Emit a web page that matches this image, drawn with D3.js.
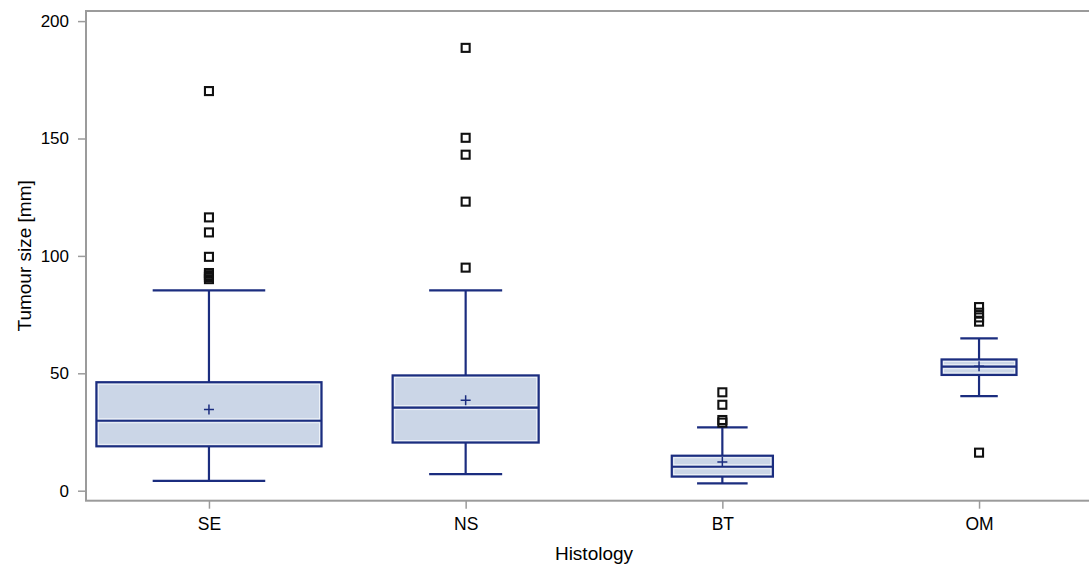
<!DOCTYPE html>
<html>
<head>
<meta charset="utf-8">
<script src="https://cdn.jsdelivr.net/npm/d3@7"></script>
<style>
  html, body { margin: 0; padding: 0; background: #fff; }
  svg { display: block; font-family: "Liberation Sans", Arial, sans-serif; }
</style>
</head>
<body>
<svg id="chart" width="1089" height="565"></svg>
<script>
// Tumour size by histology group: box = quartiles, line = median, + = mean
const categories = ["SE", "NS", "BT", "OM"];
const q1 = [18.9, 20.5, 6.0, 49.3];
const medians = [29.8, 35.4, 10.2, 52.8];
const q3 = [46.2, 49.1, 14.9, 55.9];
const means = [34.6, 38.5, 12.2, 53.0];
const whiskerLow = [4.2, 7.1, 3.1, 40.3];
const whiskerHigh = [85.3, 85.3, 27.0, 64.9];
const outliers = [
  [170.2, 116.4, 110.0, 99.6, 92.7, 91.8, 91.0, 90.1],
  [188.6, 150.3, 143.1, 123.1, 95.0],
  [41.9, 36.6, 30.1, 29.0],
  [78.2, 75.8, 73.8, 72.0, 16.2]
];
const yTicks = [0, 50, 100, 150, 200];

// Box widths as a share of the category step (variable-width boxes)
const boxWidthShare = [0.877, 0.569, 0.394, 0.292];

const navy = "#1b2d7f";
const boxFill = "#cbd6e7";
const frameGray = "#9b9b9b";

const svg = d3.select("#chart");
const plotLeft = 86, plotRight = 1102, plotTop = 11, plotBottom = 500.7;

const x = d3.scalePoint().domain(categories).range([plotLeft, plotRight]).padding(0.479);
const y = d3.scaleLinear().domain([-4.26, 204.3]).range([plotBottom, plotTop]);
const step = x.step();

const rows = categories.map((c, i) => ({
  cat: c, q1: q1[i], med: medians[i], q3: q3[i], mean: means[i],
  lo: whiskerLow[i], hi: whiskerHigh[i], out: outliers[i], w: boxWidthShare[i] * step
}));

// Axes
const yAxis = svg.append("g")
  .attr("transform", `translate(${plotLeft},0)`)
  .call(d3.axisLeft(y).tickValues(yTicks).tickSize(8).tickPadding(9));
yAxis.select(".domain").remove();
yAxis.selectAll(".tick line").attr("stroke", frameGray).attr("stroke-width", 1.5);
yAxis.selectAll(".tick text").attr("fill", "#000").style("font-size", "17px");
yAxis.attr("font-family", null).attr("font-size", null);

const xAxis = svg.append("g")
  .attr("transform", `translate(0,${plotBottom})`)
  .call(d3.axisBottom(x).tickSize(8).tickPadding(9));
xAxis.select(".domain").remove();
xAxis.selectAll(".tick line").attr("stroke", frameGray).attr("stroke-width", 1.5);
xAxis.selectAll(".tick text").attr("fill", "#000").style("font-size", "17.5px");
xAxis.attr("font-family", null).attr("font-size", null);

// Plot frame
svg.append("rect")
  .attr("x", plotLeft).attr("y", plotTop)
  .attr("width", plotRight - plotLeft).attr("height", plotBottom - plotTop)
  .attr("fill", "none").attr("stroke", frameGray).attr("stroke-width", 2);

const g = svg.append("g").selectAll("g").data(rows).join("g");

// Whiskers
g.append("line")
  .attr("x1", d => x(d.cat)).attr("x2", d => x(d.cat))
  .attr("y1", d => y(d.q3)).attr("y2", d => y(d.hi))
  .attr("stroke", navy).attr("stroke-width", 2.2);
g.append("line")
  .attr("x1", d => x(d.cat)).attr("x2", d => x(d.cat))
  .attr("y1", d => y(d.q1)).attr("y2", d => y(d.lo))
  .attr("stroke", navy).attr("stroke-width", 2.2);
g.selectAll("line.cap").data(d => [d.lo, d.hi].map(v => ({ v, d }))).join("line")
  .attr("class", "cap")
  .attr("x1", e => x(e.d.cat) - e.d.w / 4).attr("x2", e => x(e.d.cat) + e.d.w / 4)
  .attr("y1", e => y(e.v)).attr("y2", e => y(e.v))
  .attr("stroke", navy).attr("stroke-width", 2.2);

// Box body
g.append("rect")
  .attr("x", d => x(d.cat) - d.w / 2).attr("width", d => d.w)
  .attr("y", d => y(d.q3)).attr("height", d => y(d.q1) - y(d.q3))
  .attr("fill", boxFill);
// light inner edges of the two halves
g.selectAll("rect.half").data(d => [[d.q3, d.med], [d.med, d.q1]].map(p => ({ p, d }))).join("rect")
  .attr("class", "half")
  .attr("x", e => x(e.d.cat) - e.d.w / 2 + 2).attr("width", e => e.d.w - 4)
  .attr("y", e => y(e.p[0]) + 2).attr("height", e => Math.max(0, y(e.p[1]) - y(e.p[0]) - 4))
  .attr("fill", "none").attr("stroke", "#eef2f8").attr("stroke-width", 1);
g.append("rect")
  .attr("x", d => x(d.cat) - d.w / 2).attr("width", d => d.w)
  .attr("y", d => y(d.q3)).attr("height", d => y(d.q1) - y(d.q3))
  .attr("fill", "none").attr("stroke", navy).attr("stroke-width", 2.2);
g.append("line")
  .attr("x1", d => x(d.cat) - d.w / 2).attr("x2", d => x(d.cat) + d.w / 2)
  .attr("y1", d => y(d.med)).attr("y2", d => y(d.med))
  .attr("stroke", navy).attr("stroke-width", 2.2);

// Mean marker
g.append("path")
  .attr("d", d => {
    const cx = x(d.cat), cy = y(d.mean), s = 5;
    return `M${cx - s},${cy}H${cx + s}M${cx},${cy - s}V${cy + s}`;
  })
  .attr("stroke", navy).attr("stroke-width", 1.5).attr("fill", "none");

// Outliers
g.selectAll("rect.out").data(d => d.out.map(v => ({ v, cat: d.cat }))).join("rect")
  .attr("class", "out")
  .attr("x", e => x(e.cat) - 4).attr("y", e => y(e.v) - 4)
  .attr("width", 8).attr("height", 8)
  .attr("fill", "none").attr("stroke", "#111").attr("stroke-width", 2.1);

// Axis titles
svg.append("text")
  .attr("transform", `translate(24,${(plotTop + plotBottom) / 2}) rotate(-90)`)
  .attr("text-anchor", "middle").attr("dominant-baseline", "central")
  .style("font-size", "19px").attr("fill", "#000")
  .text("Tumour size [mm]");
svg.append("text")
  .attr("x", (plotLeft + plotRight) / 2).attr("y", 560)
  .attr("text-anchor", "middle")
  .style("font-size", "19px").attr("fill", "#000")
  .text("Histology");
</script>
</body>
</html>
